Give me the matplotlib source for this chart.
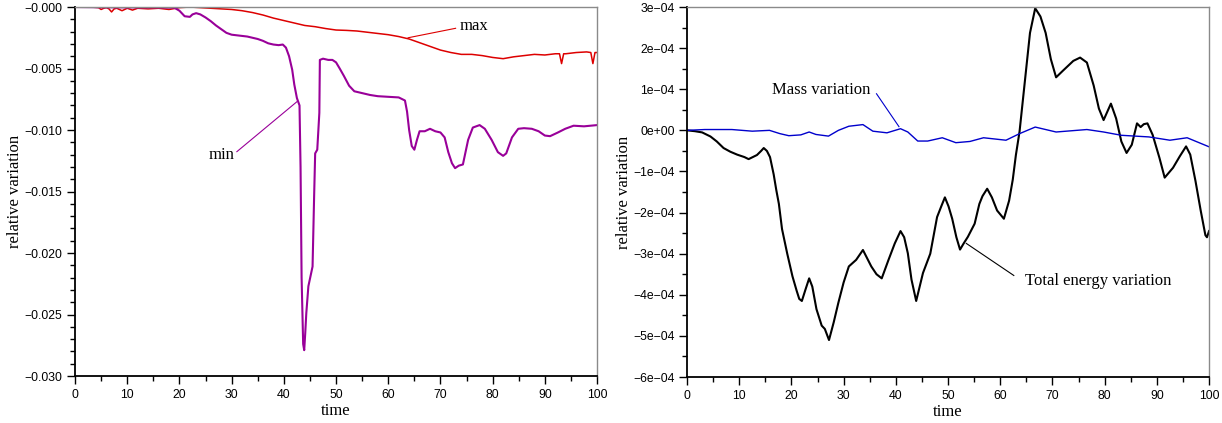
import numpy as np
import matplotlib
matplotlib.use("Agg")
import matplotlib.pyplot as plt
from matplotlib.ticker import MultipleLocator, FuncFormatter

# ---------------- data ----------------
# left panel: relative variation of max / min (units of 1e-3)
t_max = [0, 3, 4.5, 5, 5.5, 6, 6.5, 7, 7.5, 8, 9, 10, 11, 12, 14, 16, 18, 20, 22, 24, 26, 28,
         30, 32, 34, 36, 38, 40, 42, 44, 46, 48, 50, 52, 54, 56, 58, 60, 62, 64, 66, 68, 70,
         72, 74, 76, 78, 80, 82, 84, 86, 88, 90, 92, 92.8, 93.2, 93.6, 94, 96, 98, 98.8,
         99.2, 99.6, 100]
v_max = [0, 0, -0.05, -0.2, -0.1, -0.05, -0.15, -0.4, -0.15, -0.1, -0.3, -0.1, -0.25, -0.1,
         -0.15, -0.1, -0.2, -0.05, 0, -0.05, -0.1, -0.15, -0.2, -0.3, -0.45, -0.65, -0.9,
         -1.1, -1.3, -1.5, -1.6, -1.75, -1.87, -1.9, -1.95, -2.05, -2.15, -2.25, -2.4, -2.6,
         -2.9, -3.2, -3.5, -3.7, -3.85, -3.85, -3.95, -4.1, -4.2, -4.05, -3.95, -3.85, -3.9,
         -3.8, -3.8, -4.6, -3.8, -3.8, -3.7, -3.65, -3.7, -4.6, -3.7, -3.7]

t_min = [0, 5, 10, 15, 19, 20, 21, 22, 22.5, 23.2, 24, 25, 26, 27, 28, 29, 30, 31, 32, 33,
         34, 35, 36, 37, 38, 39, 39.8, 40.4, 41, 41.6, 42, 42.5, 43.0, 43.2, 43.4, 43.7,
         43.9, 44.1, 44.3, 44.7, 45.1, 45.5, 45.8, 46.0, 46.4, 46.8, 46.9, 47.5, 48.5, 49.3,
         50, 50.7, 51.5, 52.5, 53.5, 55, 56.5, 58, 60, 62, 63.2, 63.6, 64, 64.5, 65, 65.5,
         66, 67, 68, 69, 70, 70.8, 71.5, 72.2, 72.8, 73.5, 74.3, 74.8, 75.3, 76.2, 77.5,
         78.5, 79.8, 81, 82, 82.6, 83.7, 84.9, 86, 87.5, 88.8, 90, 91, 92.5, 93.9, 95.5,
         97.5, 100]
v_min = [0, -0.02, -0.03, -0.03, -0.05, -0.3, -0.75, -0.8, -0.6, -0.5, -0.6, -0.85, -1.15,
         -1.5, -1.8, -2.1, -2.25, -2.3, -2.35, -2.4, -2.5, -2.6, -2.75, -2.95, -3.05, -3.1,
         -3.05, -3.3, -4.0, -5.1, -6.3, -7.4, -8.0, -13.0, -22.0, -27.4, -27.9, -26.5,
         -24.9, -22.7, -21.9, -21.1, -15.4, -11.9, -11.6, -8.6, -4.3, -4.2, -4.3, -4.3,
         -4.5, -5.0, -5.6, -6.4, -6.85, -7.0, -7.15, -7.25, -7.3, -7.35, -7.6, -8.5, -10.0,
         -11.3, -11.6, -10.8, -10.1, -10.1, -9.9, -10.1, -10.2, -10.6, -11.8, -12.7, -13.1,
         -12.9, -12.8, -11.8, -10.8, -9.8, -9.6, -9.9, -10.8, -11.8, -12.1, -11.9, -10.6,
         -9.9, -9.85, -9.9, -10.1, -10.45, -10.5, -10.2, -9.9, -9.65, -9.7, -9.6]

# right panel: total energy and mass variation (units of 1e-4)
t_energy = [0, 1.5, 2.9, 4.5, 5.7, 7, 8.3, 9.6, 11, 11.8, 12.6, 13.4, 14.2, 14.7, 15.3, 15.9,
            16.6, 17.1, 17.6, 18.2, 19.2, 20.2, 21, 21.5, 22, 22.7, 23.4, 24.0, 24.8, 25.8,
            26.4, 27.2, 28.1, 29, 30, 31, 32.4, 33.7, 35.3, 36.3, 37.3, 38.6, 39.8, 40.9,
            41.6, 42.3, 43, 43.9, 45.2, 46.6, 47.9, 48.7, 49.4, 50.1, 50.8, 51.6, 52.3, 53,
            53.8, 55.1, 56, 56.6, 57.5, 58.4, 59.4, 60.7, 61.7, 62.4, 63, 63.7, 64.7, 65.7,
            66.7, 67.7, 68.7, 69.7, 70.7, 72, 74, 75.3, 76.6, 77.9, 78.9, 79.8, 80.5, 81.2,
            82.2, 83.2, 84.2, 85.2, 86.2, 86.9, 87.5, 88.2, 89.2, 90.5, 91.5, 93.1, 94.4,
            95.6, 96.4, 97.4, 98.4, 99.3, 99.6, 100]
v_energy = [0, -0.02, -0.05, -0.15, -0.27, -0.43, -0.52, -0.59, -0.65, -0.7, -0.65, -0.6,
            -0.5, -0.43, -0.5, -0.65, -1.07, -1.45, -1.79, -2.4, -3.0, -3.55, -3.9, -4.1,
            -4.15, -3.87, -3.6, -3.8, -4.35, -4.75, -4.83, -5.1, -4.67, -4.19, -3.7, -3.31,
            -3.15, -2.91, -3.31, -3.5, -3.6, -3.15, -2.75, -2.45, -2.6, -2.99, -3.63, -4.15,
            -3.47, -3.0, -2.11, -1.85, -1.63, -1.85, -2.15, -2.6, -2.9, -2.75, -2.59, -2.27,
            -1.79, -1.6, -1.42, -1.63, -1.95, -2.15, -1.71, -1.2, -0.6, -0.03, 1.17, 2.37,
            2.97, 2.77, 2.37, 1.73, 1.29, 1.45, 1.69, 1.77, 1.65, 1.09, 0.53, 0.25, 0.45,
            0.65, 0.29, -0.27, -0.55, -0.35, 0.17, 0.08, 0.15, 0.17, -0.11, -0.67, -1.15,
            -0.91, -0.63, -0.39, -0.59, -1.23, -1.95, -2.55, -2.6, -2.45]

t_mass = [0, 3.4, 8.6, 12.5, 15.8, 17.8, 19.5, 21.8, 23.4, 24.7, 27.1, 29, 31, 33.7, 35.6,
          38.3, 40.9, 42.3, 44.2, 46.1, 48.9, 51.5, 54.2, 56.8, 61.1, 63.7, 66.7, 70.7,
          76.6, 79.8, 83.2, 88.5, 92.5, 95.8, 100]
v_mass = [0, 0.02, 0.02, -0.02, 0, -0.08, -0.13, -0.11, -0.04, -0.1, -0.14, 0, 0.1, 0.14,
          -0.02, -0.06, 0.04, -0.04, -0.26, -0.26, -0.18, -0.3, -0.27, -0.18, -0.24, -0.08,
          0.08, -0.04, 0.02, -0.04, -0.12, -0.16, -0.24, -0.18, -0.4]

x_ticks = [0, 10, 20, 30, 40, 50, 60, 70, 80, 90, 100]
left_yticks = [-0.030, -0.025, -0.020, -0.015, -0.010, -0.005, 0.0]
right_yticks = [-6e-4, -5e-4, -4e-4, -3e-4, -2e-4, -1e-4, 0, 1e-4, 2e-4, 3e-4]

# ---------------- styling ----------------
SANS = "Liberation Sans"
SERIF = "Liberation Serif"
plt.rcParams["font.family"] = [SANS, "DejaVu Sans"]

fig = plt.figure(figsize=(12.22, 4.23), dpi=100)
axL = fig.add_axes([0.0614, 0.1111, 0.4272, 0.8723])
axR = fig.add_axes([0.5622, 0.1087, 0.4272, 0.8747])

RED = "#dd0000"
PURPLE = "#990099"
BLUE = "#0000cc"


def style_axes(ax):
    for s in ("left", "bottom"):
        ax.spines[s].set_color("black")
        ax.spines[s].set_linewidth(1.3)
    for s in ("top", "right"):
        ax.spines[s].set_color("#8a8a8a")
        ax.spines[s].set_linewidth(1.0)
    ax.tick_params(which="both", direction="out", top=False, right=False,
                   colors="black", width=1.0)
    ax.tick_params(which="major", length=5.5, labelsize=8.8, pad=3.5)
    ax.tick_params(which="minor", length=3.5)
    ax.set_xlim(0, 100)
    ax.set_xticks(x_ticks)
    ax.xaxis.set_minor_locator(MultipleLocator(5))
    ax.set_xlabel("time", family=SERIF, fontsize=12, labelpad=2)
    ax.set_ylabel("relative variation", family=SERIF, fontsize=12, labelpad=1)


# ---------------- left panel ----------------
style_axes(axL)
axL.plot(t_max, np.array(v_max) * 1e-3, color=RED, lw=1.1)
axL.plot(t_min, np.array(v_min) * 1e-3, color=PURPLE, lw=1.5)
axL.set_ylim(-0.030, 0.0)
axL.set_yticks(left_yticks)
axL.yaxis.set_minor_locator(MultipleLocator(0.001))
axL.yaxis.set_major_formatter(FuncFormatter(lambda v, p: "\u2212" + f"{abs(v):.3f}"))

axL.plot([72.9, 63.8], [-1.73e-3, -2.5e-3], color=RED, lw=0.8)
axL.text(73.6, -1.55e-3, "max", family=SERIF, fontsize=12, ha="left", va="center")
axL.plot([31.0, 42.5], [-11.76e-3, -7.7e-3], color=PURPLE, lw=0.8)
axL.text(30.5, -12.03e-3, "min", family=SERIF, fontsize=12, ha="right", va="center")

# ---------------- right panel ----------------
style_axes(axR)
axR.plot(t_energy, np.array(v_energy) * 1e-4, color="black", lw=1.5)
axR.plot(t_mass, np.array(v_mass) * 1e-4, color=BLUE, lw=1.0)
axR.set_ylim(-6e-4, 3e-4)
axR.set_yticks(right_yticks)
axR.yaxis.set_minor_locator(MultipleLocator(0.5e-4))
axR.yaxis.set_major_formatter(FuncFormatter(lambda v, p: f"{v:.0e}".replace("-", "\u2212")))

axR.plot([36.3, 40.6], [0.89e-4, 0.09e-4], color=BLUE, lw=0.8)
axR.text(35.1, 0.99e-4, "Mass variation", family=SERIF, fontsize=12, ha="right", va="center")
axR.plot([62.6, 53.5], [-3.53e-4, -2.75e-4], color="black", lw=0.8)
axR.text(64.7, -3.67e-4, "Total energy variation", family=SERIF, fontsize=12,
         ha="left", va="center")

fig.savefig("out.png", dpi=100)
